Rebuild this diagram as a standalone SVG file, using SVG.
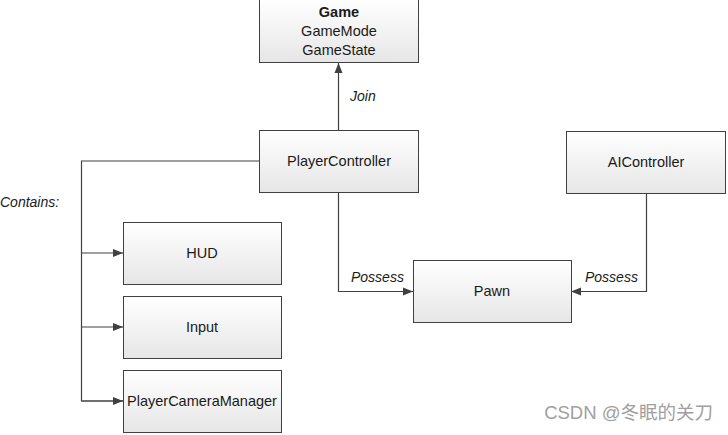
<svg xmlns="http://www.w3.org/2000/svg" width="728" height="435" viewBox="0 0 728 435">
<defs>
<linearGradient id="g" x1="0" y1="0" x2="0" y2="1">
<stop offset="0" stop-color="#ffffff"/>
<stop offset="1" stop-color="#e6e6e6"/>
</linearGradient>
<marker id="ah" viewBox="0 0 10 10" refX="10" refY="5" markerWidth="10" markerHeight="10" markerUnits="userSpaceOnUse" orient="auto">
<path d="M0,1 L10,5 L0,9 z" fill="#404040"/>
</marker>
</defs>
<style>
rect.box{fill:url(#g);stroke:#404040;stroke-width:1}
text{font-family:"Liberation Sans",Arial,sans-serif;font-size:14.5px;fill:#1a1a1a}
.c{text-anchor:middle}
.i{font-style:italic;font-size:14px}
.b{font-weight:bold}
.conn path{fill:none;stroke:#404040;stroke-width:1.2}
</style>
<rect width="728" height="435" fill="#ffffff"/>
<g class="conn" id="connectors">
<path d="M338.5,130 V63" marker-end="url(#ah)"/>
<path d="M259,161 H81.5 V401 H123"/>
<path d="M81.5,253 H123" marker-end="url(#ah)"/>
<path d="M81.5,327 H123" marker-end="url(#ah)"/>
<path d="M81.5,401 H123" marker-end="url(#ah)"/>
<path d="M338.5,192 V291.5 H413" marker-end="url(#ah)"/>
<path d="M646.5,194 V291.5 H571" marker-end="url(#ah)"/>
<text x="350" y="101" class="i">Join</text>
<text x="0" y="207" class="i">Contains:</text>
<text x="351" y="282" class="i">Possess</text>
<text x="585" y="282" class="i">Possess</text>
</g>
<g id="game">
<rect class="box" x="259.5" y="-0.5" width="159" height="63"/>
<text x="339" y="17" class="c b">Game</text>
<text x="339" y="36" class="c">GameMode</text>
<text x="339" y="55" class="c">GameState</text>
</g>
<g id="playercontroller">
<rect class="box" x="259.5" y="130.5" width="159" height="62"/>
<text x="339" y="166" class="c">PlayerController</text>
</g>
<g id="aicontroller">
<rect class="box" x="566.5" y="131.5" width="159" height="62"/>
<text x="646" y="167" class="c">AIController</text>
</g>
<g id="pawn">
<rect class="box" x="413.5" y="260.5" width="158" height="62"/>
<text x="492" y="296" class="c">Pawn</text>
</g>
<g id="hud">
<rect class="box" x="123.5" y="222.5" width="158" height="62"/>
<text x="202" y="258" class="c">HUD</text>
</g>
<g id="input">
<rect class="box" x="123.5" y="296.5" width="158" height="62"/>
<text x="202" y="332" class="c">Input</text>
</g>
<g id="playercameramanager">
<rect class="box" x="123.5" y="370.5" width="158" height="62"/>
<text x="202" y="406" class="c">PlayerCameraManager</text>
</g>
<text x="713" y="419" text-anchor="end" style="font-family:'Liberation Sans','Noto Sans CJK SC',sans-serif;font-size:18.5px;fill:#a0a0a0">CSDN @冬眠的关刀</text>
</svg>
